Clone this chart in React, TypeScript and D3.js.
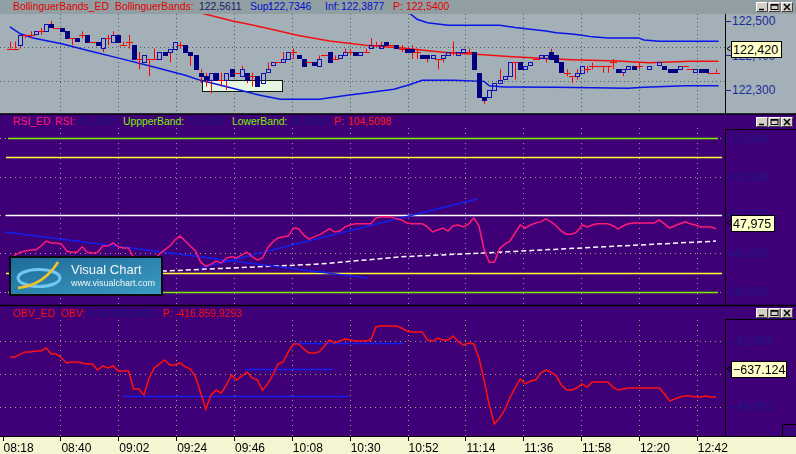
import * as d3 from "d3";

// ---- datos ----
const timeLabels = ["08:18", "08:40", "09:02", "09:24", "09:46", "10:08", "10:30", "10:52", "11:14", "11:36", "11:58", "12:20", "12:42"];

// velas [apertura, máximo, mínimo, cierre]
const candles: [number, number, number, number][] = [
  [122.42, 122.44, 122.42, 122.42], [122.42, 122.44, 122.42, 122.42], [122.43, 122.46, 122.42, 122.46], [122.46, 122.46, 122.45, 122.46],
  [122.46, 122.47, 122.45, 122.46], [122.46, 122.47, 122.46, 122.47], [122.47, 122.48, 122.46, 122.47], [122.47, 122.49, 122.47, 122.49],
  [122.49, 122.50, 122.48, 122.48], [122.48, 122.48, 122.48, 122.48], [122.48, 122.48, 122.47, 122.47], [122.47, 122.47, 122.45, 122.45],
  [122.45, 122.45, 122.43, 122.45], [122.45, 122.45, 122.44, 122.44], [122.46, 122.47, 122.45, 122.46], [122.46, 122.46, 122.44, 122.44],
  [122.44, 122.44, 122.44, 122.44], [122.44, 122.44, 122.43, 122.43], [122.42, 122.45, 122.41, 122.45], [122.45, 122.46, 122.43, 122.45],
  [122.44, 122.47, 122.44, 122.46], [122.46, 122.46, 122.44, 122.44], [122.43, 122.44, 122.43, 122.43], [122.44, 122.46, 122.42, 122.44],
  [122.43, 122.43, 122.39, 122.39], [122.39, 122.41, 122.36, 122.39], [122.38, 122.40, 122.38, 122.40], [122.39, 122.39, 122.34, 122.39],
  [122.39, 122.42, 122.39, 122.39], [122.39, 122.41, 122.39, 122.41], [122.41, 122.41, 122.40, 122.40], [122.41, 122.42, 122.38, 122.42],
  [122.42, 122.44, 122.42, 122.44], [122.43, 122.44, 122.42, 122.43], [122.43, 122.43, 122.41, 122.41], [122.41, 122.41, 122.37, 122.40],
  [122.40, 122.40, 122.36, 122.36], [122.35, 122.36, 122.32, 122.34], [122.34, 122.35, 122.31, 122.33], [122.33, 122.35, 122.29, 122.35],
  [122.35, 122.35, 122.33, 122.33], [122.33, 122.35, 122.31, 122.33], [122.33, 122.35, 122.30, 122.35], [122.36, 122.36, 122.34, 122.34],
  [122.35, 122.35, 122.35, 122.35], [122.34, 122.37, 122.34, 122.36], [122.35, 122.35, 122.32, 122.33], [122.34, 122.35, 122.31, 122.34],
  [122.34, 122.34, 122.31, 122.31], [122.32, 122.35, 122.32, 122.35], [122.35, 122.38, 122.35, 122.36], [122.37, 122.38, 122.37, 122.38],
  [122.38, 122.38, 122.38, 122.38], [122.38, 122.41, 122.38, 122.39], [122.39, 122.41, 122.39, 122.41], [122.41, 122.42, 122.39, 122.41],
  [122.40, 122.40, 122.39, 122.39], [122.39, 122.39, 122.37, 122.37], [122.38, 122.38, 122.38, 122.38], [122.38, 122.38, 122.37, 122.37],
  [122.37, 122.40, 122.37, 122.39], [122.40, 122.40, 122.40, 122.40], [122.41, 122.41, 122.38, 122.38], [122.39, 122.40, 122.39, 122.39],
  [122.39, 122.40, 122.39, 122.40], [122.40, 122.42, 122.40, 122.41], [122.41, 122.42, 122.40, 122.41], [122.41, 122.41, 122.40, 122.40],
  [122.40, 122.41, 122.40, 122.41], [122.41, 122.42, 122.41, 122.41], [122.42, 122.45, 122.42, 122.43], [122.43, 122.44, 122.43, 122.43],
  [122.42, 122.44, 122.42, 122.43], [122.44, 122.44, 122.43, 122.43], [122.43, 122.43, 122.43, 122.43], [122.43, 122.43, 122.42, 122.42],
  [122.42, 122.43, 122.41, 122.42], [122.42, 122.42, 122.41, 122.41], [122.42, 122.43, 122.39, 122.41], [122.41, 122.42, 122.39, 122.41],
  [122.40, 122.40, 122.39, 122.39], [122.40, 122.40, 122.38, 122.39], [122.39, 122.40, 122.39, 122.40], [122.39, 122.39, 122.36, 122.39],
  [122.39, 122.40, 122.38, 122.40], [122.40, 122.41, 122.40, 122.41], [122.41, 122.44, 122.40, 122.41], [122.40, 122.41, 122.40, 122.41],
  [122.41, 122.42, 122.41, 122.42], [122.41, 122.42, 122.41, 122.41], [122.41, 122.41, 122.36, 122.36], [122.35, 122.35, 122.28, 122.28],
  [122.28, 122.28, 122.26, 122.27], [122.28, 122.30, 122.28, 122.30], [122.30, 122.32, 122.30, 122.32], [122.32, 122.36, 122.32, 122.33],
  [122.33, 122.34, 122.33, 122.34], [122.34, 122.38, 122.34, 122.38], [122.38, 122.38, 122.33, 122.38], [122.38, 122.38, 122.36, 122.36],
  [122.36, 122.37, 122.36, 122.37], [122.37, 122.38, 122.37, 122.38], [122.39, 122.39, 122.39, 122.39], [122.39, 122.40, 122.39, 122.40],
  [122.39, 122.40, 122.38, 122.40], [122.41, 122.42, 122.39, 122.39], [122.40, 122.40, 122.38, 122.38], [122.38, 122.38, 122.35, 122.35],
  [122.35, 122.36, 122.34, 122.35], [122.34, 122.34, 122.32, 122.34], [122.34, 122.36, 122.33, 122.35], [122.35, 122.37, 122.35, 122.37],
  [122.36, 122.37, 122.35, 122.36], [122.37, 122.38, 122.36, 122.37], [122.37, 122.37, 122.37, 122.37], [122.37, 122.37, 122.35, 122.37],
  [122.37, 122.37, 122.35, 122.37], [122.38, 122.39, 122.36, 122.38], [122.36, 122.36, 122.35, 122.35], [122.35, 122.36, 122.34, 122.36],
  [122.36, 122.37, 122.36, 122.37], [122.37, 122.37, 122.36, 122.36], [122.37, 122.38, 122.36, 122.37], [122.38, 122.38, 122.38, 122.38],
  [122.36, 122.37, 122.36, 122.37], [122.38, 122.38, 122.38, 122.38], [122.37, 122.38, 122.37, 122.38], [122.37, 122.37, 122.36, 122.36],
  [122.36, 122.36, 122.35, 122.35], [122.36, 122.36, 122.35, 122.35], [122.36, 122.37, 122.36, 122.37], [122.37, 122.37, 122.37, 122.37],
  [122.36, 122.36, 122.36, 122.36], [122.35, 122.36, 122.35, 122.36], [122.36, 122.36, 122.35, 122.35], [122.36, 122.36, 122.35, 122.35],
  [122.35, 122.35, 122.35, 122.35], [122.35, 122.36, 122.35, 122.35],
];

// bandas de Bollinger [índice de barra, precio]
const bandUpper: [number, number][] = [
  [77, 122.53], [78, 122.517], [79, 122.505], [81, 122.495], [85, 122.488], [95, 122.488], [98, 122.481], [104, 122.471],
  [106, 122.466], [109, 122.462], [111, 122.459], [113, 122.454], [116, 122.451], [122, 122.451], [123, 122.445], [126, 122.441], [137.5, 122.441],
];
const bandMid: [number, number][] = [
  [35, 122.53], [39, 122.516], [43, 122.501], [49, 122.482], [56, 122.458], [62, 122.442], [69, 122.43], [76, 122.422],
  [85, 122.408], [92, 122.402], [96, 122.398], [104, 122.391], [109, 122.388], [118, 122.384], [124, 122.379], [132, 122.383], [137.5, 122.383],
];
const bandLower: [number, number][] = [
  [0, 122.483], [2, 122.463], [4.5, 122.451], [10, 122.434], [15.5, 122.413], [21.5, 122.391], [27, 122.37], [34, 122.343],
  [37, 122.328], [43, 122.306], [48.5, 122.285], [52.5, 122.273], [60, 122.273], [65.5, 122.285], [69, 122.291], [74.5, 122.302],
  [77.5, 122.315], [80, 122.328], [86, 122.328], [92, 122.325], [93, 122.312], [96, 122.309], [106, 122.308], [120, 122.305],
  [123, 122.308], [131, 122.312], [137.5, 122.312],
];
// zona marcada [índice desde, índice hasta, precio alto, precio bajo]
const priceZone = [37.3, 52.8, 122.33, 122.297];

const rsi = [
  37.7, 39.6, 40.3, 40.6, 40.9, 40.9, 41.9, 43.2, 42.7, 42.7,
  42.4, 40.6, 40.3, 40.3, 41.7, 40.3, 40.1, 40.3, 41.9, 41.9,
  42.7, 41.7, 41.4, 41.4, 38.8, 37.0, 36.4, 37.2, 38.3, 39.8,
  40.9, 41.9, 43.5, 44.5, 43.2, 41.9, 40.6, 37.7, 36.6, 37.2,
  38.0, 37.5, 38.8, 39.1, 38.8, 39.6, 40.3, 39.1, 38.3, 38.8,
  41.4, 43.0, 44.0, 44.3, 44.5, 46.6, 46.4, 44.8, 43.7, 44.3,
  44.8, 45.6, 46.4, 45.6, 45.8, 46.9, 47.4, 47.7, 47.7, 47.7,
  47.7, 49.2, 49.5, 49.5, 49.5, 49.0, 48.7, 47.9, 47.7, 47.7,
  47.7, 46.9, 45.6, 46.1, 46.6, 45.8, 47.2, 47.4, 46.9, 47.7,
  49.2, 47.2, 40.9, 37.7, 37.7, 41.2, 42.4, 43.2, 45.3, 47.4,
  46.6, 47.4, 47.9, 48.2, 49.0, 48.2, 47.2, 45.8, 45.0, 45.0,
  45.6, 47.4, 46.9, 47.4, 47.7, 47.7, 47.7, 47.2, 46.4, 47.2,
  47.7, 47.9, 47.9, 47.9, 47.9, 47.9, 48.7, 47.7, 46.6, 47.2,
  47.7, 48.2, 47.7, 47.4, 46.9, 46.9, 46.9, 46.4,
];
// media del RSI (línea discontinua blanca) [índice, valor]
const rsiAvg: [number, number][] = [[0, 33.6], [30, 35.4], [60, 37.2], [76, 39.1], [92, 40.1], [115, 41.7], [137, 43.2]];
const rsiGreen = [70, 30];
const rsiYellow = [65, 35];
const rsiWhite = [50];
const rsiTicks = [70, 60, 50, 40, 30];
// líneas de tendencia [índice1, valor1, índice2, valor2]
const rsiTrends: [number, number, number, number][] = [
  [-1, 45.57, 69.3, 33.57],
  [36.9, 36.18, 90.7, 54.17],
  [59.6, 35.1, 61.2, 35.1],
];

// OBV en miles (eje x10)
const obv = [
  -62.99, -62.99, -62.81, -62.68, -62.68, -62.62, -62.62, -62.44, -62.81, -62.81,
  -63.05, -63.35, -63.29, -63.29, -63.35, -63.41, -63.41, -63.78, -63.53, -63.65,
  -63.53, -63.84, -63.84, -63.84, -64.93, -64.93, -65.29, -64.26, -63.65, -63.41,
  -63.17, -63.47, -63.47, -63.35, -63.59, -63.71, -64.2, -65.17, -66.15, -65.29,
  -64.99, -65.17, -64.68, -64.08, -64.38, -64.14, -63.9, -64.26, -64.38, -64.99,
  -64.62, -64.08, -63.41, -63.29, -62.68, -62.2, -62.2, -62.5, -62.75, -62.75,
  -62.68, -62.32, -61.96, -62.14, -62.02, -61.9, -61.96, -62.02, -62.02, -62.02,
  -61.96, -61.17, -61.11, -61.11, -61.11, -61.11, -61.23, -61.41, -61.47, -61.47,
  -61.47, -61.96, -62.02, -61.84, -61.96, -61.96, -61.72, -62.08, -62.26, -62.14,
  -62.2, -63.05, -64.38, -65.9, -67.05, -66.68, -66.2, -65.47, -64.87, -64.32,
  -64.62, -64.44, -64.38, -63.95, -63.78, -63.9, -64.14, -64.68, -64.99, -64.99,
  -64.87, -64.62, -64.81, -64.5, -64.5, -64.5, -64.5, -64.81, -64.99, -64.93,
  -64.87, -64.87, -64.87, -64.87, -64.87, -64.87, -64.87, -65.23, -65.65, -65.53,
  -65.41, -65.35, -65.35, -65.41, -65.41, -65.35, -65.41, -65.41,
];
const obvTicks = [-62, -64, -66];
const obvTrends: [number, number, number, number][] = [
  [21.9, -65.35, 65.8, -65.35],
  [45.6, -63.71, 62.7, -63.71],
  [55, -62.14, 76.3, -62.14],
];

const priceTicks = [122.5, 122.4, 122.3];
const priceGrid = [122.425, 122.325];

const lastPrice = 122.42;
const lastRsi = 47.975;
const lastObv = -63.7124;

// ---- estilos ----
const FONT = "'Liberation Sans', Arial, sans-serif";
const TOP_BG = "#a3b0b7";
const TOP_HEAD = "#919fa3";
const PURPLE = "#3f0077";
const AXIS_BG = "#f5f5d2";
const PLOT_R = 725;

const parseTime = d3.timeParse("%H:%M");
const tickTimes = timeLabels.map((t) => parseTime(t) as Date);

const xTime = d3.scaleTime().domain([tickTimes[0], tickTimes[tickTimes.length - 1]]).range([2.6, 696.8]);
const xBar = d3.scaleLinear().domain([0, candles.length - 1]).range([10, 716]);
const yPrice = d3.scaleLinear().domain([122.3, 122.5]).range([90, 21]);
const yRsi = d3.scaleLinear().domain([30, 70]).range([291.7, 138.3]);
const yObv = d3.scaleLinear().domain([-66, -62]).range([406.7, 340.7]);

const fmtComma = (v: number) => d3.format(".3f")(v).replace(".", ",");
const fmtDot = (v: number) => d3.format(".3f")(v);
const px = (v: number) => Math.round(v) + 0.5;

function WinButtons({ y }: { y: number }) {
  const xs = [756, 768.5, 781];
  return (
    <g>
      {xs.map((x, i) => (
        <g key={i}>
          <rect x={x} y={y} width={12} height={10} fill="#d4d0c8" />
          <path d={`M${x + 0.5},${y + 10} V${y + 0.5} H${x + 12}`} stroke="#ffffff" fill="none" />
          <path d={`M${x + 0.5},${y + 9.5} H${x + 11.5} V${y + 0.5}`} stroke="#404040" fill="none" />
          {i === 0 && <line x1={x + 3} x2={x + 8} y1={y + 7.5} y2={y + 7.5} stroke="#000" strokeWidth={1.5} />}
          {i === 1 && (
            <g>
              <rect x={x + 2.5} y={y + 2.5} width={7} height={5} fill="none" stroke="#000" />
              <line x1={x + 2.5} x2={x + 9.5} y1={y + 3} y2={y + 3} stroke="#000" strokeWidth={1.5} />
            </g>
          )}
          {i === 2 && <path d={`M${x + 3},${y + 2} L${x + 9},${y + 8} M${x + 9},${y + 2} L${x + 3},${y + 8}`} stroke="#000" strokeWidth={1.5} />}
        </g>
      ))}
    </g>
  );
}

function ValueBox({ y, text, width }: { y: number; text: string; width: number }) {
  return (
    <g>
      <path d={`M730.5,${y - 2.5} L727,${y} L730.5,${y + 2.5}`} stroke="#000" fill="none" />
      <rect x={731.5} y={Math.round(y) - 7.5} width={width} height={16} fill="#ffffc8" stroke="#000" />
      <text x={733} y={Math.round(y) + 5} fontSize={12.5} fill="#000">{text}</text>
    </g>
  );
}

type Seg = { t: string; x: number; c: string };

function Header({ y, segs }: { y: number; segs: Seg[] }) {
  return (
    <g fontSize={10.4}>
      {segs.map((s, i) => (
        <text key={i} x={s.x} y={y} fill={s.c}>{s.t}</text>
      ))}
    </g>
  );
}

export default function App() {
  const gridXs = tickTimes.slice(1).map((t) => px(xTime(t)));
  const lineRsi = d3.line<number>().x((_, i) => xBar(i)).y((d) => yRsi(d));
  const lineObv = d3.line<number>().x((_, i) => xBar(i)).y((d) => yObv(d));
  const knot = (y: d3.ScaleLinear<number, number>) =>
    d3.line<[number, number]>().x((d) => xBar(d[0])).y((d) => y(d[1]));

  const topHead: Seg[] = [
    { t: "BollinguerBands_ED", x: 13, c: "#e00000" },
    { t: "BollinguerBands:", x: 115, c: "#e00000" },
    { t: "122,5611", x: 199, c: "#15206e" },
    { t: "Sup:", x: 250, c: "#0010c8" },
    { t: "122,7346", x: 268, c: "#0010c8" },
    { t: "Inf:", x: 325, c: "#0010c8" },
    { t: "122,3877", x: 341, c: "#0010c8" },
    { t: "P:", x: 393, c: "#e00000" },
    { t: "122,5400", x: 406, c: "#e00000" },
  ];
  const rsiHead: Seg[] = [
    { t: "RSI_ED", x: 13, c: "#ff1a78" },
    { t: "RSI:", x: 55, c: "#ff1a78" },
    { t: "41,3329", x: 78, c: "#14187e" },
    { t: "UppperBand:", x: 123, c: "#7cf000" },
    { t: "70,0000", x: 187, c: "#14187e" },
    { t: "LowerBand:", x: 232, c: "#7cf000" },
    { t: "30,0000", x: 289, c: "#14187e" },
    { t: "P:", x: 334, c: "#ff1a1a" },
    { t: "104,5098", x: 348, c: "#ff1a1a" },
  ];
  const obvHead: Seg[] = [
    { t: "OBV_ED", x: 13, c: "#ff1010" },
    { t: "OBV:", x: 61, c: "#ff1010" },
    { t: "-638.538,0000", x: 87, c: "#14187e" },
    { t: "P:", x: 163, c: "#ff1010" },
    { t: "-416.859,9293", x: 175, c: "#ff1010" },
  ];

  return (
    <div style={{ position: "fixed", left: 0, top: 0 }}>
      <svg width={796} height={454} style={{ display: "block" }} fontFamily={FONT}>
        <defs>
          <clipPath id="clipTop"><rect x={0} y={14} width={PLOT_R} height={99} /></clipPath>
          <clipPath id="clipRsi"><rect x={0} y={115} width={PLOT_R} height={190} /></clipPath>
          <clipPath id="clipObv"><rect x={0} y={306} width={PLOT_R} height={130} /></clipPath>
          <linearGradient id="logoGrad" x1="0" x2="1" y1="0" y2="1">
            <stop offset="0" stopColor="#1d6a97" />
            <stop offset="1" stopColor="#3c9cc4" />
          </linearGradient>
        </defs>

        {/* ---- panel superior: Bollinger ---- */}
        <rect x={0} y={0} width={796} height={114} fill={TOP_BG} />
        <rect x={0} y={0} width={796} height={14} fill={TOP_HEAD} />
        <Header y={10} segs={topHead} />
        <WinButtons y={2} />
        <g stroke="#4e5a60" strokeDasharray="1,3">
          {gridXs.map((x, i) => <line key={i} x1={x} x2={x} y1={14} y2={113} />)}
          {priceGrid.map((v, i) => <line key={"g" + i} x1={0} x2={PLOT_R} y1={px(yPrice(v))} y2={px(yPrice(v))} />)}
        </g>
        <g clipPath="url(#clipTop)">
          <rect
            x={px(xBar(priceZone[0]))} y={px(yPrice(priceZone[2]))}
            width={Math.round(xBar(priceZone[1]) - xBar(priceZone[0]))}
            height={Math.round(yPrice(priceZone[3]) - yPrice(priceZone[2]))}
            fill="#e3f7e1" stroke="#0d1a0d"
          />
          <path d={knot(yPrice)(bandUpper) ?? ""} fill="none" stroke="#0a14e6" strokeWidth={1.5} />
          <path d={knot(yPrice)(bandLower) ?? ""} fill="none" stroke="#0a14e6" strokeWidth={1.5} />
          <path d={knot(yPrice)(bandMid) ?? ""} fill="none" stroke="#f01010" strokeWidth={1.5} />
          {candles.map(([o, h, l, c], i) => {
            const cx = px(xBar(i));
            const yo = yPrice(o), yc = yPrice(c), yh = yPrice(h), yl = yPrice(l);
            const top = Math.min(yo, yc), bot = Math.max(yo, yc);
            return (
              <g key={i}>
                {yh < top && <line x1={cx} x2={cx} y1={yh} y2={top} stroke="#ff0000" />}
                {yl > bot && <line x1={cx} x2={cx} y1={bot} y2={yl} stroke="#ff0000" />}
                {o === c ? (
                  <line x1={cx - 3.5} x2={cx + 3.5} y1={px(yo)} y2={px(yo)} stroke="#ff0000" />
                ) : (
                  <rect
                    x={cx - 2} y={Math.round(top) + 0.5} width={4} height={Math.max(1, Math.round(bot - top))}
                    fill={c < o ? "#000080" : "none"} stroke={c < o ? "#000080" : "#1010b4"}
                  />
                )}
              </g>
            );
          })}
        </g>
        <line x1={PLOT_R + 0.5} x2={PLOT_R + 0.5} y1={14} y2={114} stroke="#000" />
        <g fontSize={12} fill="#1c2a9c">
          {priceTicks.map((v, i) => (
            <g key={i}>
              <line x1={726} x2={731} y1={px(yPrice(v))} y2={px(yPrice(v))} stroke="#1c2a9c" />
              <text x={732} y={yPrice(v)} dy="0.36em">{fmtComma(v)}</text>
            </g>
          ))}
        </g>
        <ValueBox y={yPrice(lastPrice)} text={fmtComma(lastPrice)} width={50} />

        {/* ---- panel RSI ---- */}
        <rect x={0} y={114} width={796} height={192} fill={PURPLE} />
        <line x1={0} x2={796} y1={114} y2={114} stroke="#000" strokeWidth={1.5} />
        <Header y={125} segs={rsiHead} />
        <WinButtons y={117} />
        <g strokeDasharray="1,4">
          {gridXs.map((x, i) => <line key={i} x1={x} x2={x} y1={128} y2={305} stroke="#9890a4" />)}
          {rsiTicks.map((v, i) => <line key={"g" + i} x1={0} x2={PLOT_R} y1={px(yRsi(v))} y2={px(yRsi(v))} stroke="#a8a070" />)}
        </g>
        <g clipPath="url(#clipRsi)">
          {rsiGreen.map((v, i) => <line key={"gr" + i} x1={8} x2={718} y1={px(yRsi(v))} y2={px(yRsi(v))} stroke="#80f000" strokeWidth={1.5} />)}
          {rsiYellow.map((v, i) => <line key={"ye" + i} x1={6} x2={722} y1={px(yRsi(v))} y2={px(yRsi(v))} stroke="#ffff30" strokeWidth={1.5} />)}
          {rsiWhite.map((v, i) => <line key={"wh" + i} x1={6} x2={722} y1={px(yRsi(v))} y2={px(yRsi(v))} stroke="#ffffff" strokeWidth={1.5} />)}
          <path d={knot(yRsi)(rsiAvg) ?? ""} fill="none" stroke="#ffffff" strokeWidth={1.5} strokeDasharray="5,3" />
          {rsiTrends.map((t, i) => (
            <line key={i} x1={xBar(t[0])} y1={yRsi(t[1])} x2={xBar(t[2])} y2={yRsi(t[3])} stroke="#1020f0" strokeWidth={1.5} />
          ))}
          <path d={lineRsi(rsi) ?? ""} fill="none" stroke="#ff1a78" strokeWidth={1.5} />
        </g>
        <line x1={PLOT_R + 0.5} x2={PLOT_R + 0.5} y1={129} y2={305} stroke="#000" />
        <line x1={PLOT_R} x2={796} y1={129.5} y2={129.5} stroke="#000" />
        <g fontSize={12} fill="#1a1a86">
          {rsiTicks.map((v, i) => (
            <g key={i}>
              <line x1={726} x2={731} y1={px(yRsi(v))} y2={px(yRsi(v))} stroke="#1a1a86" />
              <text x={732} y={yRsi(v)} dy="0.36em">{fmtComma(v)}</text>
            </g>
          ))}
        </g>
        <ValueBox y={yRsi(lastRsi)} text={fmtComma(lastRsi)} width={43} />

        {/* logo */}
        <g>
          <rect x={10} y={257} width={152} height={38} fill="url(#logoGrad)" stroke="#0a0a0a" strokeWidth={2} />
          <ellipse cx={39} cy={278} rx={21} ry={8.5} fill="none" stroke="#72c8f0" strokeWidth={3} />
          <path d="M18,288 Q44,285 58,262" fill="none" stroke="#f2c22a" strokeWidth={2.5} />
          <text x={71} y={274} fontSize={13} fill="#f4f4f4">Visual Chart</text>
          <text x={71} y={286} fontSize={9} fill="#f4f4f4">www.visualchart.com</text>
        </g>

        {/* ---- panel OBV ---- */}
        <rect x={0} y={306} width={796} height={130} fill={PURPLE} />
        <line x1={0} x2={796} y1={305.5} y2={305.5} stroke="#000" strokeWidth={1.5} />
        <Header y={317} segs={obvHead} />
        <WinButtons y={308} />
        <g strokeDasharray="1,4">
          {gridXs.map((x, i) => <line key={i} x1={x} x2={x} y1={320} y2={436} stroke="#a8a070" />)}
          {obvTicks.map((v, i) => <line key={"g" + i} x1={0} x2={PLOT_R} y1={px(yObv(v))} y2={px(yObv(v))} stroke="#a8a070" />)}
        </g>
        <g clipPath="url(#clipObv)">
          {obvTrends.map((t, i) => (
            <line key={i} x1={xBar(t[0])} y1={px(yObv(t[1]))} x2={xBar(t[2])} y2={px(yObv(t[3]))} stroke="#1020f0" strokeWidth={1.5} />
          ))}
          <path d={lineObv(obv) ?? ""} fill="none" stroke="#ff1010" strokeWidth={1.5} />
        </g>
        <line x1={PLOT_R + 0.5} x2={PLOT_R + 0.5} y1={319} y2={436} stroke="#000" />
        <line x1={PLOT_R} x2={796} y1={319.5} y2={319.5} stroke="#000" />
        <g fontSize={12} fill="#1a1a86">
          {obvTicks.map((v, i) => (
            <g key={i}>
              <line x1={726} x2={730} y1={px(yObv(v))} y2={px(yObv(v))} stroke="#1a1a86" />
              <text x={730} y={yObv(v)} dy="0.36em">{fmtDot(v)}</text>
            </g>
          ))}
        </g>
        <ValueBox y={yObv(lastObv)} text={d3.format(".3f")(lastObv * 10)} width={55} />
        <path d="M782.5,436 V424.5 H796" fill="none" stroke="#000" />
        <text x={784} y={434} fontSize={8} fill="#1a1a86">x10</text>

        {/* ---- eje de tiempo ---- */}
        <rect x={0} y={436} width={796} height={18} fill={AXIS_BG} />
        <line x1={0} x2={796} y1={436.5} y2={436.5} stroke="#000" />
        <g fontSize={12} fill="#000">
          {tickTimes.map((t, i) => (
            <g key={i}>
              <line x1={px(xTime(t))} x2={px(xTime(t))} y1={436} y2={441} stroke="#000" />
              <text x={xTime(t) + 1} y={452}>{timeLabels[i]}</text>
            </g>
          ))}
        </g>
      </svg>
    </div>
  );
}
